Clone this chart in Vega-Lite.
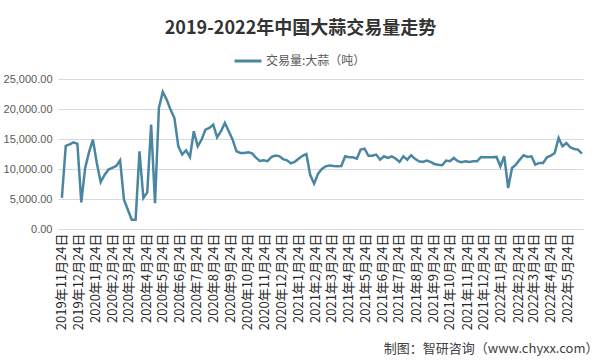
{
  "$schema": "https://vega.github.io/schema/vega-lite/v6.json",
  "width": 525,
  "height": 150,
  "autosize": {"type": "none"},
  "padding": {"left": 58, "top": 79, "right": 17, "bottom": 131},
  "background": "white",
  "title": {
    "text": "2019-2022年中国大蒜交易量走势",
    "font": "Noto Sans CJK SC",
    "fontSize": 18,
    "fontWeight": "bold",
    "color": "#333333",
    "anchor": "middle",
    "dx": -20,
    "offset": 8
  },
  "data": {
    "values": [
      {"date": "2019-11-24", "value": 5200},
      {"date": "2019-12-01", "value": 13850},
      {"date": "2019-12-08", "value": 14100},
      {"date": "2019-12-15", "value": 14450},
      {"date": "2019-12-22", "value": 14200},
      {"date": "2019-12-29", "value": 4430},
      {"date": "2020-01-05", "value": 10170},
      {"date": "2020-01-12", "value": 12800},
      {"date": "2020-01-19", "value": 14900},
      {"date": "2020-01-26", "value": 11000},
      {"date": "2020-02-02", "value": 7800},
      {"date": "2020-02-09", "value": 9000},
      {"date": "2020-02-16", "value": 9900},
      {"date": "2020-02-23", "value": 10200},
      {"date": "2020-03-01", "value": 10500},
      {"date": "2020-03-08", "value": 11440},
      {"date": "2020-03-15", "value": 4880},
      {"date": "2020-03-22", "value": 3220},
      {"date": "2020-03-29", "value": 1550},
      {"date": "2020-04-05", "value": 1550},
      {"date": "2020-04-12", "value": 12940},
      {"date": "2020-04-19", "value": 5170},
      {"date": "2020-04-26", "value": 6100},
      {"date": "2020-05-03", "value": 17400},
      {"date": "2020-05-10", "value": 4300},
      {"date": "2020-05-17", "value": 20180},
      {"date": "2020-05-24", "value": 22850},
      {"date": "2020-05-31", "value": 21570},
      {"date": "2020-06-07", "value": 19900},
      {"date": "2020-06-14", "value": 18500},
      {"date": "2020-06-21", "value": 13790},
      {"date": "2020-06-28", "value": 12400},
      {"date": "2020-07-05", "value": 13120},
      {"date": "2020-07-12", "value": 12010},
      {"date": "2020-07-19", "value": 16290},
      {"date": "2020-07-26", "value": 13790},
      {"date": "2020-08-02", "value": 14900},
      {"date": "2020-08-09", "value": 16570},
      {"date": "2020-08-16", "value": 16850},
      {"date": "2020-08-23", "value": 17400},
      {"date": "2020-08-30", "value": 15290},
      {"date": "2020-09-06", "value": 16290},
      {"date": "2020-09-13", "value": 17680},
      {"date": "2020-09-20", "value": 16290},
      {"date": "2020-09-27", "value": 14900},
      {"date": "2020-10-04", "value": 12950},
      {"date": "2020-10-11", "value": 12680},
      {"date": "2020-10-18", "value": 12680},
      {"date": "2020-10-25", "value": 12800},
      {"date": "2020-11-01", "value": 12600},
      {"date": "2020-11-08", "value": 11900},
      {"date": "2020-11-15", "value": 11350},
      {"date": "2020-11-22", "value": 11450},
      {"date": "2020-11-29", "value": 11300},
      {"date": "2020-12-06", "value": 12000},
      {"date": "2020-12-13", "value": 12230},
      {"date": "2020-12-20", "value": 12150},
      {"date": "2020-12-27", "value": 11650},
      {"date": "2021-01-03", "value": 11450},
      {"date": "2021-01-10", "value": 10950},
      {"date": "2021-01-17", "value": 11200},
      {"date": "2021-01-24", "value": 11700},
      {"date": "2021-01-31", "value": 12200},
      {"date": "2021-02-07", "value": 12500},
      {"date": "2021-02-14", "value": 9000},
      {"date": "2021-02-21", "value": 7560},
      {"date": "2021-02-28", "value": 9200},
      {"date": "2021-03-07", "value": 10000},
      {"date": "2021-03-14", "value": 10450},
      {"date": "2021-03-21", "value": 10600},
      {"date": "2021-03-28", "value": 10500},
      {"date": "2021-04-04", "value": 10450},
      {"date": "2021-04-11", "value": 10500},
      {"date": "2021-04-18", "value": 12120},
      {"date": "2021-04-25", "value": 11950},
      {"date": "2021-05-02", "value": 11950},
      {"date": "2021-05-09", "value": 11730},
      {"date": "2021-05-16", "value": 13230},
      {"date": "2021-05-23", "value": 13400},
      {"date": "2021-05-30", "value": 12200},
      {"date": "2021-06-06", "value": 12200},
      {"date": "2021-06-13", "value": 12400},
      {"date": "2021-06-20", "value": 11560},
      {"date": "2021-06-27", "value": 12120},
      {"date": "2021-07-04", "value": 11840},
      {"date": "2021-07-11", "value": 12120},
      {"date": "2021-07-18", "value": 11730},
      {"date": "2021-07-25", "value": 11180},
      {"date": "2021-08-01", "value": 12120},
      {"date": "2021-08-08", "value": 11560},
      {"date": "2021-08-15", "value": 12290},
      {"date": "2021-08-22", "value": 11700},
      {"date": "2021-08-29", "value": 11290},
      {"date": "2021-09-05", "value": 11180},
      {"date": "2021-09-12", "value": 11400},
      {"date": "2021-09-19", "value": 11180},
      {"date": "2021-09-26", "value": 10840},
      {"date": "2021-10-03", "value": 10700},
      {"date": "2021-10-10", "value": 10620},
      {"date": "2021-10-17", "value": 11400},
      {"date": "2021-10-24", "value": 11290},
      {"date": "2021-10-31", "value": 11840},
      {"date": "2021-11-07", "value": 11300},
      {"date": "2021-11-14", "value": 11120},
      {"date": "2021-11-21", "value": 11290},
      {"date": "2021-11-28", "value": 11180},
      {"date": "2021-12-05", "value": 11290},
      {"date": "2021-12-12", "value": 11290},
      {"date": "2021-12-19", "value": 12010},
      {"date": "2021-12-26", "value": 11950},
      {"date": "2022-01-02", "value": 11950},
      {"date": "2022-01-09", "value": 11950},
      {"date": "2022-01-16", "value": 12010},
      {"date": "2022-01-23", "value": 10450},
      {"date": "2022-01-30", "value": 12120},
      {"date": "2022-02-06", "value": 6840},
      {"date": "2022-02-13", "value": 10170},
      {"date": "2022-02-20", "value": 10730},
      {"date": "2022-02-27", "value": 11560},
      {"date": "2022-03-06", "value": 12290},
      {"date": "2022-03-13", "value": 12010},
      {"date": "2022-03-20", "value": 12120},
      {"date": "2022-03-27", "value": 10730},
      {"date": "2022-04-03", "value": 11010},
      {"date": "2022-04-10", "value": 11010},
      {"date": "2022-04-17", "value": 11950},
      {"date": "2022-04-24", "value": 12230},
      {"date": "2022-05-01", "value": 12680},
      {"date": "2022-05-08", "value": 15180},
      {"date": "2022-05-15", "value": 13790},
      {"date": "2022-05-22", "value": 14340},
      {"date": "2022-05-29", "value": 13620},
      {"date": "2022-06-05", "value": 13340},
      {"date": "2022-06-12", "value": 13230},
      {"date": "2022-06-19", "value": 12570}
    ]
  },
  "mark": {"type": "line", "strokeWidth": 2.5},
  "encoding": {
    "x": {
      "field": "date",
      "type": "temporal",
      "scale": {
        "type": "utc",
        "domain": [
          {"year": 2019, "month": 11, "date": 17, "utc": true},
          {"year": 2022, "month": 6, "date": 21, "utc": true}
        ]
      },
      "axis": {
        "values": [
          {"year": 2019, "month": 11, "date": 24, "utc": true},
          {"year": 2019, "month": 12, "date": 24, "utc": true},
          {"year": 2020, "month": 1, "date": 24, "utc": true},
          {"year": 2020, "month": 2, "date": 24, "utc": true},
          {"year": 2020, "month": 3, "date": 24, "utc": true},
          {"year": 2020, "month": 4, "date": 24, "utc": true},
          {"year": 2020, "month": 5, "date": 24, "utc": true},
          {"year": 2020, "month": 6, "date": 24, "utc": true},
          {"year": 2020, "month": 7, "date": 24, "utc": true},
          {"year": 2020, "month": 8, "date": 24, "utc": true},
          {"year": 2020, "month": 9, "date": 24, "utc": true},
          {"year": 2020, "month": 10, "date": 24, "utc": true},
          {"year": 2020, "month": 11, "date": 24, "utc": true},
          {"year": 2020, "month": 12, "date": 24, "utc": true},
          {"year": 2021, "month": 1, "date": 24, "utc": true},
          {"year": 2021, "month": 2, "date": 24, "utc": true},
          {"year": 2021, "month": 3, "date": 24, "utc": true},
          {"year": 2021, "month": 4, "date": 24, "utc": true},
          {"year": 2021, "month": 5, "date": 24, "utc": true},
          {"year": 2021, "month": 6, "date": 24, "utc": true},
          {"year": 2021, "month": 7, "date": 24, "utc": true},
          {"year": 2021, "month": 8, "date": 24, "utc": true},
          {"year": 2021, "month": 9, "date": 24, "utc": true},
          {"year": 2021, "month": 10, "date": 24, "utc": true},
          {"year": 2021, "month": 11, "date": 24, "utc": true},
          {"year": 2021, "month": 12, "date": 24, "utc": true},
          {"year": 2022, "month": 1, "date": 24, "utc": true},
          {"year": 2022, "month": 2, "date": 24, "utc": true},
          {"year": 2022, "month": 3, "date": 24, "utc": true},
          {"year": 2022, "month": 4, "date": 24, "utc": true},
          {"year": 2022, "month": 5, "date": 24, "utc": true}
        ],
        "format": "%Y年%-m月%-d日",
        "labelAngle": -90,
        "labelFont": "Noto Sans CJK SC",
        "labelFontSize": 13,
        "labelColor": "#262626",
        "labelPadding": 4,
        "labelOverlap": false,
        "labelBound": false,
        "labelFlush": false,
        "ticks": false,
        "grid": false,
        "domainColor": "#d9d9d9",
        "title": "制图：智研咨询（www.chyxx.com）",
        "titleFont": "Noto Sans CJK SC",
        "titleFontSize": 13,
        "titleFontWeight": "normal",
        "titleColor": "#404040",
        "titleAngle": 0,
        "titleAlign": "right",
        "titleBaseline": "alphabetic",
        "titleX": 540,
        "titleY": 123
      }
    },
    "y": {
      "field": "value",
      "type": "quantitative",
      "scale": {"domain": [0, 25000]},
      "axis": {
        "values": [0, 5000, 10000, 15000, 20000, 25000],
        "format": ",.2f",
        "labelFont": "Liberation Sans",
        "labelFontSize": 11,
        "labelColor": "#595959",
        "labelPadding": 6,
        "domain": false,
        "ticks": false,
        "gridColor": "#d9d9d9",
        "title": null
      }
    },
    "color": {
      "datum": "交易量:大蒜（吨）",
      "scale": {"range": ["#4A86A2"]},
      "legend": {
        "orient": "none",
        "legendX": 175,
        "legendY": -33,
        "title": null,
        "symbolType": "stroke",
        "symbolSize": 729,
        "symbolStrokeWidth": 3,
        "labelFont": "Noto Sans CJK SC",
        "labelFontSize": 12,
        "labelColor": "#595959",
        "labelOffset": 3
      }
    }
  },
  "config": {"view": {"stroke": null}}
}
